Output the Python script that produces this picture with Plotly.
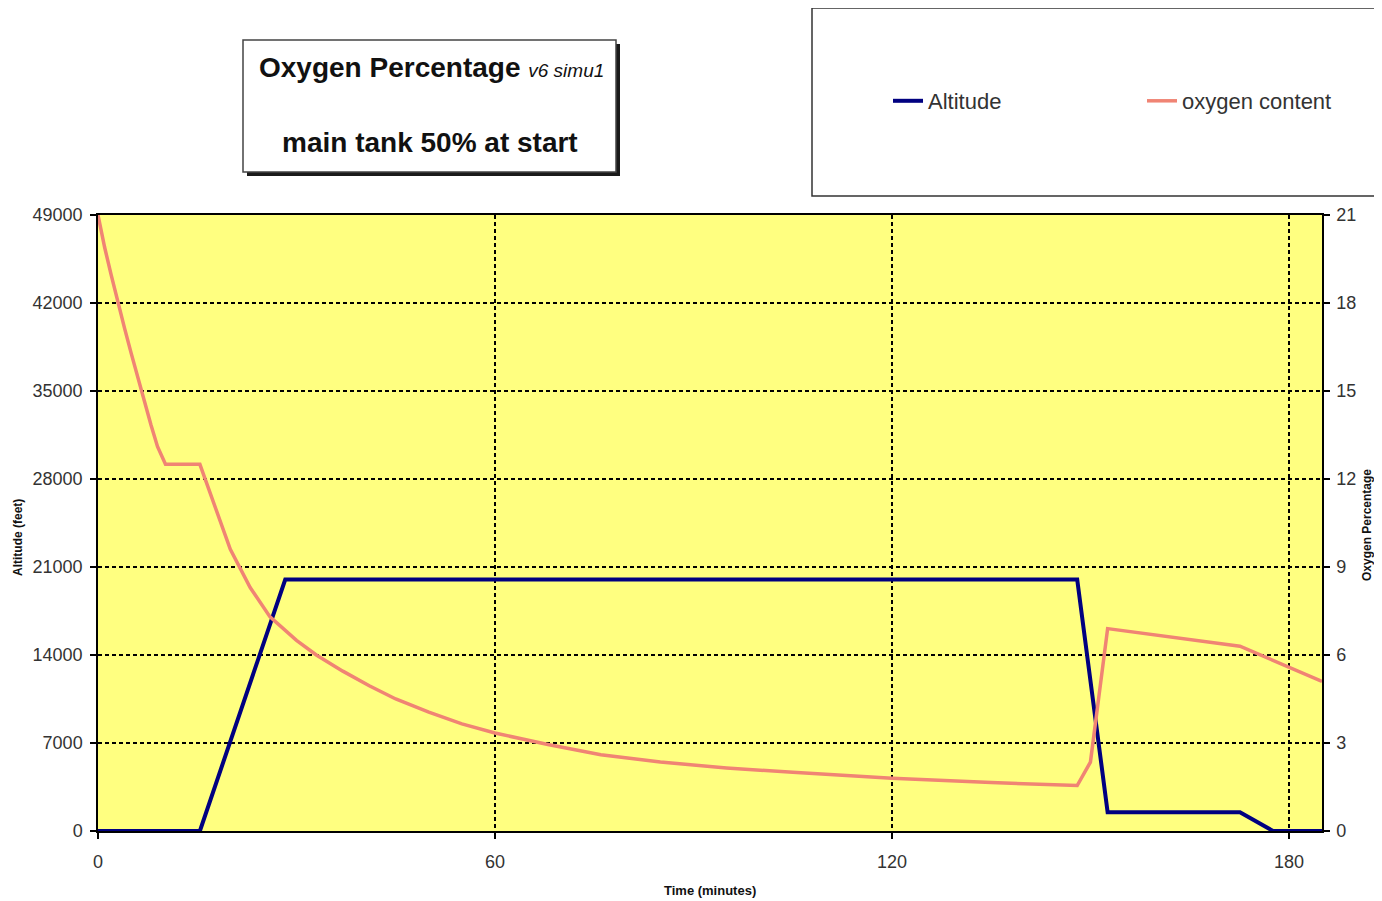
import plotly.graph_objects as go

# ---------------- data ----------------
time_alt = [0, 15.4, 28.3, 148.0, 152.6, 172.6, 177.6, 185]
altitude = [0, 0, 20000, 20000, 1500, 1500, 0, 0]

time_oxy = [0, 1, 2, 3, 4, 5, 6, 7, 8, 9, 10.2, 15.4, 17, 20, 23, 26, 30, 33, 37, 41,
            45, 50, 55, 60, 68, 76, 85, 95, 105, 120, 135, 148, 150, 152.6, 172.6, 185]
oxygen = [21, 19.9, 18.95, 18.0, 17.15, 16.3, 15.45, 14.65, 13.85, 13.1, 12.5, 12.5,
          11.5, 9.6, 8.3, 7.3, 6.5, 6.0, 5.45, 4.95, 4.5, 4.05, 3.65, 3.34, 2.95, 2.6,
          2.35, 2.15, 2.0, 1.8, 1.65, 1.55, 2.35, 6.9, 6.3, 5.1]

x_ticks = [0, 60, 120, 180]
alt_ticks = [0, 7000, 14000, 21000, 28000, 35000, 42000, 49000]
oxy_ticks = [0, 3, 6, 9, 12, 15, 18, 21]

# ---------------- layout helpers ----------------
OFF = 8                      # default page body margin
W, H = 1382 - 2 * OFF, 901 - OFF
L, R, T, B = 98, 1322, 215, 831   # plot area in screen pixels


def xp(px):
    return (px - L) / (R - L)


def yp(py):
    return (B - py) / (B - T)


FONT = "Liberation Sans, Arial, sans-serif"
TICKCOL = "#333333"

fig = go.Figure()
fig.add_trace(go.Scatter(x=time_alt, y=altitude, mode="lines", name="Altitude",
                         line=dict(color="#000080", width=4), yaxis="y"))
fig.add_trace(go.Scatter(x=time_oxy, y=oxygen, mode="lines", name="oxygen content",
                         line=dict(color="#F08474", width=3.5), yaxis="y2"))

axis_common = dict(ticks="outside", ticklen=6, tickcolor="black", tickwidth=1.5,
                   showline=True, linecolor="black", linewidth=1.5, zeroline=False,
                   automargin=False, tickfont=dict(size=18, color=TICKCOL))

fig.update_layout(
    width=W, height=H,
    margin=dict(l=L - OFF, r=(W + OFF) - R, t=T - OFF, b=(H + OFF) - B, pad=0,
                autoexpand=False),
    paper_bgcolor="white",
    plot_bgcolor="#FFFF80",
    font=dict(family=FONT, color=TICKCOL, size=18),
    xaxis=dict(range=[0, 185], tickvals=x_ticks, mirror=True, showgrid=True,
               gridcolor="black", gridwidth=1.5, griddash="4px,3px",
               ticklabelstandoff=8, **axis_common),
    yaxis=dict(range=[0, 49000], tickvals=alt_ticks, tickformat="d", mirror=True,
               showgrid=True, gridcolor="black", gridwidth=1.5, griddash="4px,3px",
               ticklabelstandoff=4, **axis_common),
    yaxis2=dict(range=[0, 21], tickvals=oxy_ticks, overlaying="y", side="right",
                showgrid=False, ticklabelstandoff=3, **axis_common),
    showlegend=True,
    legend=dict(orientation="h", x=xp(888), y=yp(101), xanchor="left", yanchor="middle",
                bgcolor="rgba(0,0,0,0)", borderwidth=0,
                font=dict(size=22, color=TICKCOL, family=FONT),
                entrywidth=209, entrywidthmode="pixels"),
)

shapes = [
    # title box shadow + box
    dict(type="rect", xref="paper", yref="paper", x0=xp(247), x1=xp(620), y0=yp(176), y1=yp(44),
         fillcolor="#1a1a1a", line=dict(width=0), layer="above"),
    dict(type="rect", xref="paper", yref="paper", x0=xp(243), x1=xp(616), y0=yp(172), y1=yp(40),
         fillcolor="white", line=dict(color="#444444", width=1.5), layer="above"),
    # legend box
    dict(type="rect", xref="paper", yref="paper", x0=xp(812), x1=xp(1400), y0=yp(196), y1=yp(8),
         fillcolor="rgba(0,0,0,0)", line=dict(color="#333333", width=1.5), layer="above"),
]

annotations = [
    dict(xref="paper", yref="paper", x=xp(431), y=yp(67), xanchor="center", yanchor="middle",
         showarrow=False,
         text="<b>Oxygen Percentage</b> <i><span style='font-size:19px'>v6 simu1</span></i>",
         font=dict(size=28, color="#111111", family=FONT)),
    dict(xref="paper", yref="paper", x=xp(430), y=yp(142), xanchor="center", yanchor="middle",
         showarrow=False, text="<b>main tank 50% at start</b>",
         font=dict(size=28, color="#111111", family=FONT)),
    dict(xref="paper", yref="paper", x=xp(710), y=yp(890), xanchor="center", yanchor="middle",
         showarrow=False, text="<b>Time (minutes)</b>",
         font=dict(size=13, color="#111111", family=FONT)),
    dict(xref="paper", yref="paper", x=xp(18), y=yp(538), xanchor="center", yanchor="middle",
         showarrow=False, text="<b>Altitude (feet)</b>", textangle=-90,
         font=dict(size=12, color="#111111", family=FONT)),
    dict(xref="paper", yref="paper", x=xp(1367), y=yp(525), xanchor="center", yanchor="middle",
         showarrow=False, text="<b>Oxygen Percentage</b>", textangle=-90,
         font=dict(size=12, color="#111111", family=FONT)),
]

fig.update_layout(shapes=shapes, annotations=annotations)

fig.write_html("out.html")
